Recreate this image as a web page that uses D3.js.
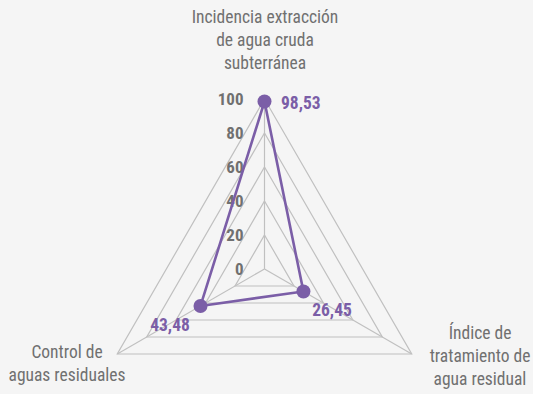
<!DOCTYPE html>
<html><head><meta charset="utf-8">
<script src="https://cdn.jsdelivr.net/npm/d3@7"></script>
<style>
html,body{margin:0;padding:0;background:#f5f5f5;}
svg{display:block;}
text{font-family:"Liberation Sans Narrow","Roboto Condensed","Arial Narrow","Liberation Sans",sans-serif;}
</style></head>
<body>
<svg id="c" width="533" height="394"></svg>
<script>
const categories = [
  ["Incidencia extracción","de agua cruda","subterránea"],
  ["Índice de","tratamiento de","agua residual"],
  ["Control de","aguas residuales"]
];
const values = [98.53, 26.45, 43.48];
const valueLabels = ["98,53", "26,45", "43,48"];
const ticks = [0, 20, 40, 60, 80, 100];

const svg = d3.select("#c");
const cx = 264.5, cy = 269, R = 170;
const r = d3.scaleLinear().domain([0, 100]).range([0, R]);
const n = categories.length;
const ang = i => -Math.PI / 2 + i * 2 * Math.PI / n;
const pt = (i, v) => [cx + r(v) * Math.cos(ang(i)), cy + r(v) * Math.sin(ang(i))];

const g = svg.append("g");
ticks.filter(t => t > 0).forEach(t => {
  g.append("polygon")
    .attr("points", d3.range(n).map(i => pt(i, t).join(",")).join(" "))
    .attr("fill", "none").attr("stroke", "#c0c0c0").attr("stroke-width", 1.2);
});
d3.range(n).forEach(i => {
  const [x, y] = pt(i, 100);
  g.append("line").attr("x1", cx).attr("y1", cy).attr("x2", x).attr("y2", y)
    .attr("stroke", "#c0c0c0").attr("stroke-width", 1.2);
});
ticks.forEach(t => {
  g.append("text").attr("x", cx - 21).attr("y", cy - r(t)).attr("dy", "0.35em")
    .attr("text-anchor", "end").attr("font-size", 17).attr("font-weight", "bold")
    .attr("fill", "#707070").text(t);
});
const line = d3.line().curve(d3.curveLinearClosed);
g.append("path").attr("d", line(values.map((v, i) => pt(i, v))))
  .attr("fill", "none").attr("stroke", "#7b5ea7").attr("stroke-width", 2.6);
values.forEach((v, i) => {
  const [x, y] = pt(i, v);
  g.append("circle").attr("cx", x).attr("cy", y).attr("r", 7).attr("fill", "#7b5ea7");
});
const vlPos = [[281, 103, "start"], [332, 310, "middle"], [170, 325, "middle"]];
values.forEach((v, i) => {
  g.append("text").attr("x", vlPos[i][0]).attr("y", vlPos[i][1]).attr("dy", "0.35em")
    .attr("text-anchor", vlPos[i][2]).attr("font-size", 17.5).attr("font-weight", "bold")
    .attr("fill", "#7b5ea7").text(valueLabels[i]);
});
const catPos = [[265, 17], [480, 333], [67, 352]];
categories.forEach((lines, i) => {
  lines.forEach((s, j) => {
    g.append("text").attr("x", catPos[i][0]).attr("y", catPos[i][1] + j * 23).attr("dy", "0.35em")
      .attr("text-anchor", "middle").attr("font-size", 17.5).attr("fill", "#707070").text(s);
  });
});
</script>
</body></html>
